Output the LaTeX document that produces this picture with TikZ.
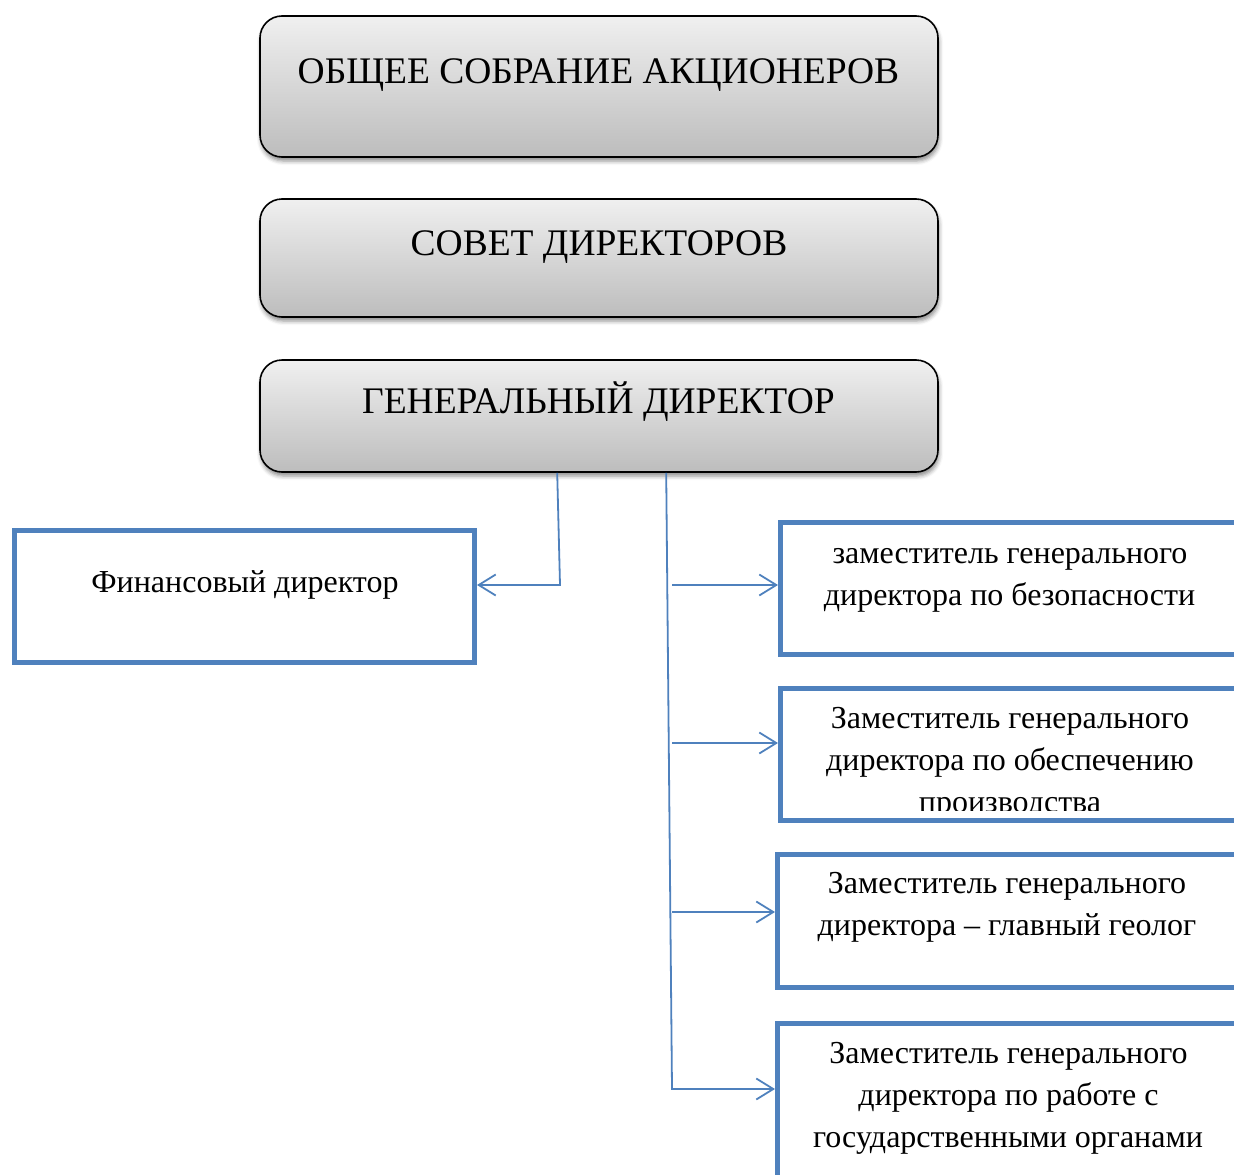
\documentclass[tikz,border=0pt]{standalone}
\usepackage{fontspec}
\setmainfont{Liberation Serif}
\usetikzlibrary{arrows.meta,shadows.blur,calc}
\definecolor{bl}{HTML}{4F81BD}
\begin{document}
\begin{tikzpicture}[x=1pt,y=-1pt,
  gbox/.style={draw=black, line width=1.6pt, rounded corners=22pt,
    top color=black!6, bottom color=black!26, inner sep=0pt,
    blur shadow={shadow xshift=1pt, shadow yshift=-4pt, shadow blur radius=4pt, shadow opacity=45}},
  bbox/.style={draw=bl, line width=5pt, fill=white, inner sep=0pt},
  ttl/.style={font=\fontsize{37.5}{46}\selectfont, inner sep=0pt, anchor=base},
  txt/.style={font=\fontsize{32}{42}\selectfont, inner sep=0pt, anchor=base},
  conn/.style={draw=bl, line width=1.8pt},
  arr/.style={conn, -{Straight Barb[length=17pt,width=21pt]}}]
\useasboundingbox (0,0) rectangle (1234,1175);
\clip (0,0) rectangle (1234,1175);
% grey boxes
\node[gbox, minimum width=678pt, minimum height=141pt] (g1) at (599,86.5) {};
\node[gbox, minimum width=678pt, minimum height=118pt] (g2) at (599,258) {};
\node[gbox, minimum width=678pt, minimum height=112pt] (g3) at (599,416) {};
\node[ttl] (t1) at (598.5,83) {ОБЩЕЕ СОБРАНИЕ АКЦИОНЕРОВ};
\node[ttl] (t2) at (599,255) {СОВЕТ ДИРЕКТОРОВ};
\node[ttl] (t3) at (598.5,413) {ГЕНЕРАЛЬНЫЙ ДИРЕКТОР};
% blue boxes
\node[bbox, minimum width=460pt, minimum height=132pt] (fin) at (244.5,596.5) {};
\node[bbox, minimum width=459pt, minimum height=132pt] (d1) at (1010,588.5) {};
\node[bbox, minimum width=459pt, minimum height=132pt] (d2) at (1010,754.5) {};
\node[bbox, minimum width=459pt, minimum height=133pt] (d3) at (1007,921) {};
\node[bbox, minimum width=461pt, minimum height=200pt] (d4) at (1008,1123.5) {};
% texts
\node[txt] (f1) at (245,592) {Финансовый директор};
\node[txt] (a1) at (1010,563) {заместитель генерального};
\node[txt] (a2) at (1009.5,605) {директора по безопасности};
\node[txt] (b1) at (1010,728) {Заместитель генерального};
\node[txt] (b2) at (1010,770) {директора по обеспечению};
\begin{scope}
\clip (780,790) rectangle (1234,810);
\node[txt] (b3) at (1010,812) {производства};
\end{scope}
\node[txt] (c1) at (1007,893) {Заместитель генерального};
\node[txt] (c2) at (1007,935) {директора – главный геолог};
\node[txt] (e1) at (1008.5,1063) {Заместитель генерального};
\node[txt] (e2) at (1008.5,1105) {директора по работе с};
\node[txt] (e3) at (1008,1147) {государственными органами};
% connectors
\coordinate (s1) at ($(g3.south west)+(298,0)$);
\coordinate (k1) at (560,585);
\coordinate (s2) at ($(g3.south west)+(407,0)$);
\coordinate (r1) at (672,585);
\coordinate (r2) at (672,743);
\coordinate (r3) at (672,912);
\coordinate (r4) at (672,1089);
\draw[arr] (s1) -- (k1) -- (fin.east |- k1);
\draw[arr] (s2) -- (r4) -- (d4.west |- r4);
\draw[arr] (r1) -- (d1.west |- r1);
\draw[arr] (r2) -- (d2.west |- r2);
\draw[arr] (r3) -- (d3.west |- r3);
\end{tikzpicture}
\end{document}
